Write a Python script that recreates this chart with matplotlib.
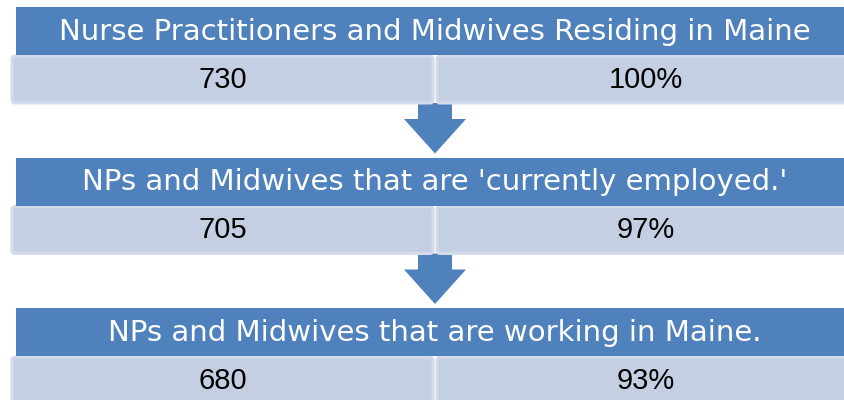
import matplotlib.pyplot as plt
from matplotlib.patches import Rectangle, FancyBboxPatch, Polygon

# Funnel steps (top to bottom)
stages = ["Nurse Practitioners and Midwives Residing in Maine",
          "NPs and Midwives that are 'currently employed.'",
          "NPs and Midwives that are working in Maine."]
counts = [730, 705, 680]
percents = [100, 97, 93]

# colours
head_col = "#4F81BD"
cell_col = "#C4CFE3"
cell_edge = "#D4DCEB"

# layout in pixels (figure is 845 x 400)
W, H = 845, 400
top0 = 7          # top of first header band
step = 150.5      # distance between blocks
head_h = 48
val_h = 50
x_left = 16
x_mid = 435
x_right = 860

fig = plt.figure(figsize=(8.45, 4.0), dpi=100)
ax = fig.add_axes([0, 0, 1, 1])
ax.set_xlim(0, W)
ax.set_ylim(H, 0)
ax.axis("off")

for i in range(len(stages)):
    top = top0 + i * step
    # value row (two cells)
    vtop = top + head_h
    for x0, x1 in [(10, x_mid), (x_mid, x_right)]:
        ax.add_patch(FancyBboxPatch((x0 + 2, vtop + 1), x1 - x0 - 4, val_h - 3,
                                    boxstyle="round,pad=0,rounding_size=3",
                                    fc=cell_col, ec=cell_edge, lw=2.2, zorder=2))
    # header band
    ax.add_patch(Rectangle((x_left, top), x_right - x_left, head_h,
                           fc=head_col, ec="none", zorder=3))
    ax.text(x_mid, top + head_h / 2 + 1, stages[i], color="white",
            fontsize=21, family="DejaVu Sans", ha="center", va="center", zorder=4)
    ax.text((10 + x_mid) / 2, vtop + val_h / 2, str(counts[i]), color="black",
            fontsize=21, family="Liberation Sans", ha="center", va="center", zorder=4)
    ax.text((x_mid + x_right) / 2 - 2, vtop + val_h / 2, "%d%%" % percents[i], color="black",
            fontsize=21, family="Liberation Sans", ha="center", va="center", zorder=4)

    # arrow down to next block
    if i < len(stages) - 1:
        a_top = vtop + val_h - 2
        stem_b = a_top + 16
        tip = top + step - 4
        ax.add_patch(Polygon([(x_mid - 17, a_top), (x_mid + 17, a_top),
                              (x_mid + 17, stem_b), (x_mid + 31, stem_b),
                              (x_mid, tip), (x_mid - 31, stem_b),
                              (x_mid - 17, stem_b)],
                             closed=True, fc=head_col, ec="none", zorder=1))

fig.savefig("out.png", dpi=100)
